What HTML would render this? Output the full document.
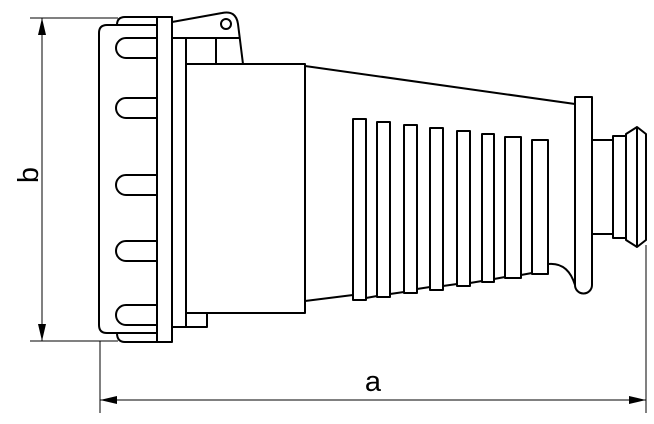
<!DOCTYPE html>
<html><head><style>html,body{margin:0;padding:0;background:#fff}svg{display:block}</style></head>
<body>
<svg width="654" height="424" viewBox="0 0 654 424" xmlns="http://www.w3.org/2000/svg">
<g fill="none" stroke="#000" stroke-width="1">
<line x1="30" y1="18" x2="118" y2="18"/>
<line x1="30" y1="341" x2="118" y2="341"/>
<line x1="42" y1="18" x2="42" y2="341"/>
<line x1="100" y1="341" x2="100" y2="413"/>
<line x1="646" y1="245" x2="646" y2="413"/>
<line x1="100" y1="400" x2="646" y2="400"/>
</g>
<g fill="#000">
<polygon points="42,18 38,35 46,35"/>
<polygon points="42,341 38,324 46,324"/>
<polygon points="100,400 117,396 117,404"/>
<polygon points="646,400 629,396 629,404"/>
</g>
<text x="373" y="391" font-family="Liberation Sans, sans-serif" font-size="29" text-anchor="middle">a</text>
<text transform="translate(38,175) rotate(-90)" font-family="Liberation Sans, sans-serif" font-size="29" text-anchor="middle">b</text>
<g fill="none" stroke="#000" stroke-width="2" stroke-linejoin="round">
<path d="M157,25 L107,25 Q99,25 99,33 L99,325 Q99,333 107,333 L157,333"/>
<path d="M117,25 Q117,17 125,17 L157,17"/>
<path d="M117,333 Q117,342 125,342 L157,342"/>
<path d="M157,38 L126,38 A10,10 0 0 0 126,58 L157,58"/>
<path d="M157,98 L126,98 A10,10 0 0 0 126,118 L157,118"/>
<path d="M157,175 L126,175 A10,10 0 0 0 126,195 L157,195"/>
<path d="M157,241 L126,241 A10,10 0 0 0 126,261 L157,261"/>
<path d="M157,305 L126,305 A10,10 0 0 0 126,325 L157,325"/>
<line x1="157" y1="25" x2="157" y2="38"/><line x1="157" y1="58" x2="157" y2="98"/>
<line x1="157" y1="118" x2="157" y2="175"/><line x1="157" y1="195" x2="157" y2="241"/>
<line x1="157" y1="261" x2="157" y2="305"/><line x1="157" y1="325" x2="157" y2="333"/>
<rect x="157" y="17" width="15" height="325"/>
<rect x="172" y="38" width="14" height="289"/>
<rect x="186" y="313" width="21" height="14"/>
<path d="M172,22 L222,13 Q236,10 238,24 L243,64"/>
<line x1="172" y1="38" x2="240" y2="38"/>
<line x1="216" y1="38" x2="216" y2="64"/>
<circle cx="226" cy="24" r="5"/>
<rect x="186" y="64" width="119" height="249"/>
<path d="M305,66 L575,104"/>
<path d="M305,301 L353,295"/>
<path d="M366,298 L377,296 M390,294 L404,292 M417,289 L430,287 M443,286 L457,284 M470,283 L482,281 M494,279 L505,277 M521,275 L532,273"/>
<path d="M548,264 Q568,262 575,285"/>
<rect x="353" y="119" width="13" height="181"/>
<rect x="377" y="122" width="13" height="175"/>
<rect x="404" y="125" width="13" height="168"/>
<rect x="430" y="128" width="13" height="162"/>
<rect x="457" y="131" width="13" height="155"/>
<rect x="482" y="134" width="12" height="148"/>
<rect x="505" y="137" width="16" height="141"/>
<rect x="532" y="140" width="16" height="134"/>
<path d="M575,97 L592,97 L592,285 A8.5,8.5 0 0 1 575,285 Z"/>
<path d="M592,140 L613,140 M592,234 L613,234"/>
<rect x="613" y="136" width="13" height="102"/>
<path d="M626,134 L637,127 L646,134 L646,240 L637,247 L626,240 Z"/>
<line x1="637" y1="127" x2="637" y2="247"/>
</g>
</svg>
</body></html>
